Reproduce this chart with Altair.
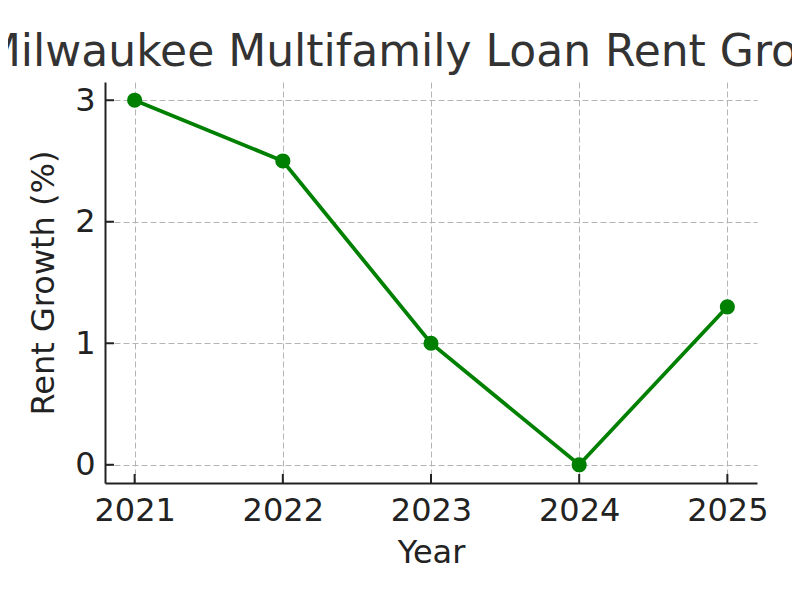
import altair as alt
import pandas as pd

years = [2021, 2022, 2023, 2024, 2025]
rent_growth = [3.0, 2.5, 1.0, 0.0, 1.3]
x_ticks = [2021, 2022, 2023, 2024, 2025]
y_ticks = [0, 1, 2, 3]

W, H = 652, 401
FONT = "DejaVu Sans"

df = pd.DataFrame({"year": years, "growth": rent_growth})
xt = pd.DataFrame({"year": x_ticks})
yt = pd.DataFrame({"growth": y_ticks})

xscale = alt.Scale(domain=[2020.8, 2025.2], nice=False, zero=False)
yscale = alt.Scale(domain=[-0.15, 3.15], nice=False, zero=False)

grid_axis = dict(
    grid=True, gridColor="#b4b4b4", gridDash=[6, 3], gridWidth=1,
    domainColor="#222222", domainWidth=2, ticks=False,
    labelFont=FONT, labelFontSize=32, labelColor="#222222",
    titleFont=FONT, titleFontSize=32, titleColor="#222222", titleFontWeight="normal",
)

x_axis = alt.Axis(title="Year", values=x_ticks, format="d",
                  labelPadding=12, titlePadding=11, labelFlush=False, **grid_axis)
y_axis = alt.Axis(title="Rent Growth (%)", values=y_ticks, format="d",
                  labelPadding=10, titlePadding=14, **grid_axis)

base = alt.Chart(df).encode(
    x=alt.X("year:Q", scale=xscale, axis=x_axis),
    y=alt.Y("growth:Q", scale=yscale, axis=y_axis),
)
line = base.mark_line(color="#008000", strokeWidth=3.8)
pts = base.mark_circle(color="#008000", size=230, opacity=1)

xtick_marks = alt.Chart(xt).mark_rule(color="#222222", strokeWidth=2).encode(
    x=alt.X("year:Q", scale=xscale, axis=x_axis), y=alt.value(H), y2=alt.value(H - 9))
ytick_marks = alt.Chart(yt).mark_rule(color="#222222", strokeWidth=2).encode(
    y=alt.Y("growth:Q", scale=yscale, axis=y_axis), x=alt.value(0), x2=alt.value(9))

chart = alt.layer(line, pts, xtick_marks, ytick_marks).properties(
    width=W, height=H,
    background="white",
    title=alt.TitleParams(
        "Milwaukee Multifamily Loan Rent Growth",
        font=FONT, fontSize=44, fontWeight="normal", color="#333333",
        anchor="middle", frame="group", baseline="alphabetic", offset=17, dy=45,
    ),
    autosize=alt.AutoSizeParams(type="none"),
    padding={"left": 97, "top": 74, "right": 35, "bottom": 100},
).configure_view(strokeWidth=0, stroke="transparent")

chart.save("out.html", embed_options={"renderer": "svg", "actions": False})
